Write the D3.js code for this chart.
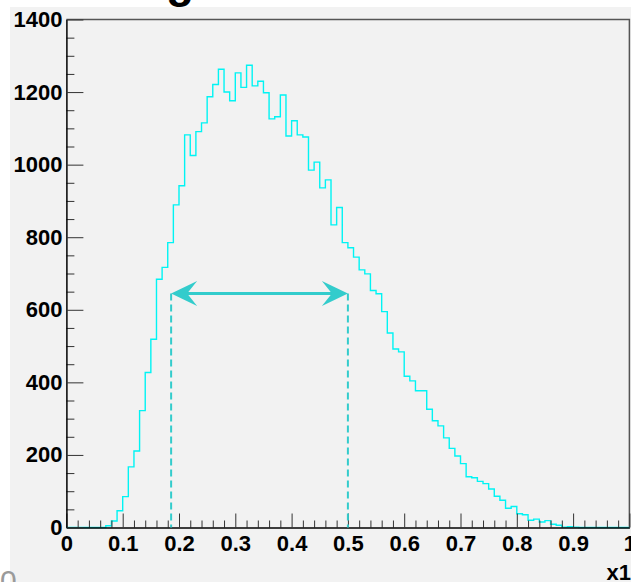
<!DOCTYPE html>
<html>
<head>
<meta charset="utf-8">
<script src="https://cdn.jsdelivr.net/npm/d3@7"></script>
<style>
  html, body { margin: 0; padding: 0; background: #ffffff; }
  svg { display: block; }
  text { font-family: "Liberation Sans", Arial, sans-serif; font-weight: bold; }
</style>
</head>
<body>
<div id="chart"></div>
<script>
// Histogram of x1: 100 bins of width 0.01 between 0 and 1
const binLow = 0;
const binHigh = 1;
const binCounts = [
  0, 0, 0, 0, 0, 0, 0, 5, 18, 46,
  85, 167, 211, 322, 427, 519, 684, 717, 785, 889,
  942, 1082, 1025, 1091, 1115, 1187, 1221, 1263, 1200, 1176,
  1253, 1213, 1274, 1217, 1230, 1198, 1126, 1132, 1192, 1079,
  1121, 1082, 1076, 985, 1007, 936, 958, 834, 882, 785,
  771, 745, 710, 699, 653, 644, 595, 536, 492, 484,
  417, 404, 377, 377, 326, 294, 280, 247, 218, 197,
  176, 140, 137, 127, 121, 106, 86, 75, 53, 58,
  38, 35, 20, 23, 15, 19, 9, 6, 1, 2,
  1, 0, 0, 0, 0, 0, 0, 0, 0, 0
];

// Width marker: arrow between two x positions at a given height
const widthMarkerX = [0.186, 0.5];
const widthMarkerY = 645;

// Axis ticks
const xMajorTicks = [0, 0.1, 0.2, 0.3, 0.4, 0.5, 0.6, 0.7, 0.8, 0.9, 1];
const xTickLabels = ["0", "0.1", "0.2", "0.3", "0.4", "0.5", "0.6", "0.7", "0.8", "0.9", "1"];
const yMajorTicks = [0, 200, 400, 600, 800, 1000, 1200, 1400];
const yTickLabels = ["0", "200", "400", "600", "800", "1000", "1200", "1400"];
const xAxisTitle = "x1";

const W = 631, H = 582;
const svg = d3.select("#chart").append("svg")
  .attr("width", W).attr("height", H);

// canvas pad
svg.append("rect")
  .attr("x", 10).attr("y", 7)
  .attr("width", W - 10).attr("height", H - 7)
  .attr("fill", "#f2f2f2");

const x = d3.scaleLinear().domain([0, 1]).range([66.4, 629.4]);
const y = d3.scaleLinear().domain([0, 1400]).range([527.5, 19.5]);

// title (mostly above the visible area)
svg.append("text")
  .attr("x", 180).attr("y", -3)
  .attr("text-anchor", "middle")
  .attr("font-size", 46)
  .attr("fill", "#000")
  .text("g");

// frame top and right edges
svg.append("path")
  .attr("d", `M${x(0)},${y(1400)}H${x(1)}V${y(0)}`)
  .attr("fill", "none")
  .attr("stroke", "#555")
  .attr("stroke-width", 1.5);

// histogram as a step line
const nBins = binCounts.length;
const binW = (binHigh - binLow) / nBins;
const stepPts = binCounts.map((c, i) => [binLow + i * binW, c]);
stepPts.push([binHigh, binCounts[nBins - 1]]);
const stepLine = d3.line()
  .x(d => x(d[0]))
  .y(d => y(d[1]))
  .curve(d3.curveStepAfter);
svg.append("path")
  .datum(stepPts)
  .attr("d", stepLine)
  .attr("fill", "none")
  .attr("stroke", "#00f4f4")
  .attr("stroke-width", 1.4);

// minor ticks
const xMinor = d3.range(0, 50).map(i => i * 0.02).filter(v => Math.abs(v * 10 - Math.round(v * 10)) > 1e-6);
const yMinor = d3.range(0, 29).map(i => i * 50).filter(v => v % 200 !== 0);

svg.append("g")
  .attr("transform", `translate(0,${y(0)})`)
  .call(d3.axisBottom(x).tickValues(xMinor).tickSize(-7).tickSizeOuter(0).tickFormat(""))
  .call(g => g.select(".domain").remove())
  .call(g => g.selectAll("line").attr("stroke", "#333"));

svg.append("g")
  .attr("transform", `translate(${x(0)},0)`)
  .call(d3.axisLeft(y).tickValues(yMinor).tickSize(-8).tickSizeOuter(0).tickFormat(""))
  .call(g => g.select(".domain").remove())
  .call(g => g.selectAll("line").attr("stroke", "#333"));

// major ticks with labels
const xAxis = svg.append("g")
  .attr("transform", `translate(0,${y(0)})`)
  .call(d3.axisBottom(x).tickValues(xMajorTicks).tickSize(-14).tickSizeOuter(0)
    .tickPadding(8)
    .tickFormat((d, i) => xTickLabels[i]));
xAxis.select(".domain").attr("stroke", "#000").attr("stroke-width", 1.5);
xAxis.selectAll("line").attr("stroke", "#333");
xAxis.selectAll("text").attr("font-size", 22).attr("fill", "#000")
  .attr("font-family", "'Liberation Sans', Arial, sans-serif").attr("font-weight", "bold");

const yAxis = svg.append("g")
  .attr("transform", `translate(${x(0)},0)`)
  .call(d3.axisLeft(y).tickValues(yMajorTicks).tickSize(-17).tickSizeOuter(0)
    .tickPadding(4)
    .tickFormat((d, i) => yTickLabels[i]));
yAxis.select(".domain").attr("stroke", "#000").attr("stroke-width", 1.5);
yAxis.selectAll("line").attr("stroke", "#333");
yAxis.selectAll("text").attr("font-size", 22).attr("fill", "#000")
  .attr("font-family", "'Liberation Sans', Arial, sans-serif").attr("font-weight", "bold");

// x axis title
svg.append("text")
  .attr("x", 631).attr("y", 580)
  .attr("text-anchor", "end")
  .attr("font-size", 22)
  .attr("fill", "#000")
  .text(xAxisTitle);

// stray grey digit at the lower left
svg.append("text")
  .attr("x", 0).attr("y", 591)
  .attr("font-size", 30)
  .attr("fill", "#9a9a9a")
  .style("font-weight", "normal")
  .text("0");

// width marker
const markColor = "#33cccc";
const [xa, xb] = widthMarkerX;
svg.selectAll("line.drop")
  .data(widthMarkerX)
  .enter().append("line")
  .attr("class", "drop")
  .attr("x1", d => x(d)).attr("x2", d => x(d))
  .attr("y1", y(widthMarkerY)).attr("y2", y(0))
  .attr("stroke", markColor)
  .attr("stroke-width", 2)
  .attr("stroke-dasharray", "7,4");

svg.append("line")
  .attr("x1", x(xa) + 14).attr("x2", x(xb) - 14)
  .attr("y1", y(widthMarkerY)).attr("y2", y(widthMarkerY))
  .attr("stroke", markColor)
  .attr("stroke-width", 3);

// notched arrow heads
function headPath(tipX, tipY, dir) {
  const L = 26, N = 16, h = 12.5;
  return `M${tipX},${tipY}L${tipX + dir * L},${tipY - h}L${tipX + dir * N},${tipY}L${tipX + dir * L},${tipY + h}Z`;
}
svg.append("path").attr("d", headPath(x(xa), y(widthMarkerY), 1)).attr("fill", markColor);
svg.append("path").attr("d", headPath(x(xb), y(widthMarkerY), -1)).attr("fill", markColor);
</script>
</body>
</html>
